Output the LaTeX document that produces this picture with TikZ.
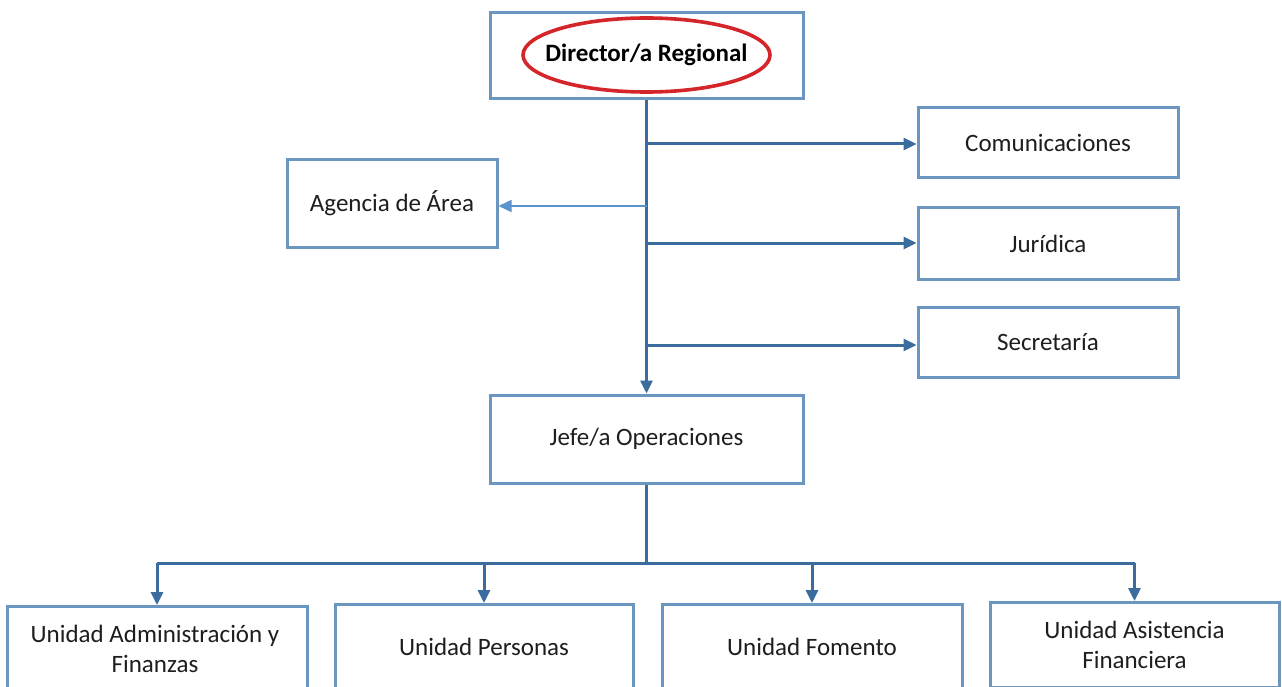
\documentclass[tikz,border=0pt]{standalone}
\usepackage{fontspec}
\setmainfont{Carlito}
\usetikzlibrary{arrows.meta,shapes.geometric}
\definecolor{boxblue}{HTML}{6A96C0}
\definecolor{linkblue}{HTML}{3A6C9E}
\definecolor{lightlink}{HTML}{5B93CC}
\definecolor{ovalred}{HTML}{D4262A}
\definecolor{txt}{HTML}{1E1E1E}
\begin{document}
\begin{tikzpicture}[x=1pt,y=-1pt,
  orgbox/.style={draw=boxblue,line width=3pt,rectangle,inner sep=2pt,align=center,text=txt,font=\fontsize{25}{30}\selectfont},
  link/.style={draw=linkblue,line width=3pt,-{Triangle[length=13pt,width=12pt]}},
  bus/.style={draw=linkblue,line width=3pt},
  thinlink/.style={draw=lightlink,line width=1.5pt,-{Triangle[length=13pt,width=12pt]}},
  oval/.style={draw=ovalred,line width=3.6pt}]
\useasboundingbox (0,0) rectangle (1282,687);
\clip (0,0) rectangle (1282,687);
\fill[white] (0,0) rectangle (1282,687);
% nodes
\node[orgbox,minimum width=313pt,minimum height=86pt] (dir) at (646.5,56) {};
\draw[oval] (646.5,55) ellipse [x radius=123.5pt, y radius=37pt];
\node[inner sep=0pt,text=black,font=\fontsize{25}{30}\selectfont\bfseries] (dirtext) at (646.5,55) {Director/a Regional};
\node[orgbox,minimum width=210pt,minimum height=87pt] (age) at (392,203.5) {Agencia de Área};
\node[orgbox,minimum width=260pt,minimum height=70pt] (com) at (1048,143) {Comunicaciones};
\node[orgbox,minimum width=260pt,minimum height=71pt] (jur) at (1048,243.5) {Jurídica};
\node[orgbox,minimum width=260pt,minimum height=70pt] (sec) at (1048,342) {Secretaría};
\node[orgbox,minimum width=313pt,minimum height=88pt] (jefe) at (646.5,439) {Jefe/a Operaciones};
\node[orgbox,minimum width=300pt,minimum height=92pt,anchor=north] (u1) at (157,605) {};
\node[orgbox,minimum width=298pt,minimum height=92pt,anchor=north] (u2) at (484,603) {};
\node[orgbox,minimum width=300pt,minimum height=92pt,anchor=north] (u3) at (812,603) {};
\node[orgbox,minimum width=289pt,minimum height=85pt,anchor=north] (u4) at (1134.5,601) {};
\node[orgbox,draw=none] (t1) at (155,649) {Unidad Administración y\\Finanzas};
\node[orgbox,draw=none] (t2) at (484,647) {Unidad Personas};
\node[orgbox,draw=none] (t3) at (812,647) {Unidad Fomento};
\node[orgbox,draw=none] (t4) at (1134.5,645) {Unidad Asistencia\\Financiera};
% connectors
\coordinate (bc) at (646.5,144);
\coordinate (ba) at (646.5,206);
\coordinate (bj) at (646.5,243);
\coordinate (bs) at (646.5,345);
\coordinate (bus) at (646.5,563);
\draw[link] (dir.south) -- (jefe.north);
\draw[link] (bc) -- (bc -| com.west);
\draw[link] (bj) -- (bj -| jur.west);
\draw[link] (bs) -- (bs -| sec.west);
\draw[thinlink] (ba) -- (ba -| age.east);
\draw[bus] (jefe.south) -- (bus);
\draw[bus] (bus -| u1.north) -- (bus -| u4.north);
\draw[link] (bus -| u1.north) -- (u1.north);
\draw[link] (bus -| u2.north) -- (u2.north);
\draw[link] (bus -| u3.north) -- (u3.north);
\draw[link] (bus -| u4.north) -- (u4.north);
\end{tikzpicture}
\end{document}
